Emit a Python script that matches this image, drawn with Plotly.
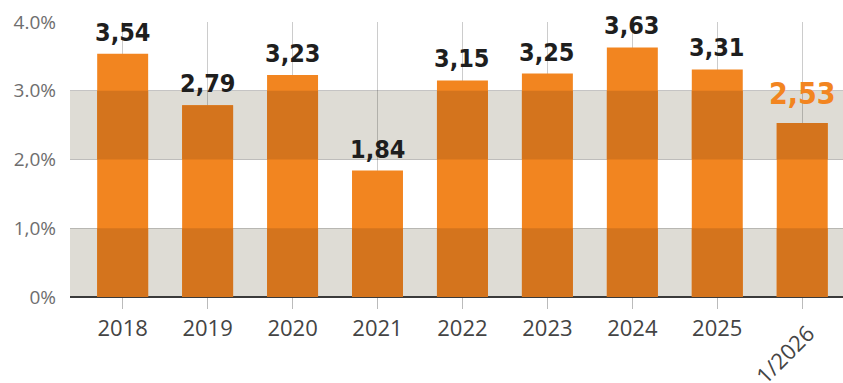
import plotly.graph_objects as go

categories = ["2018", "2019", "2020", "2021", "2022", "2023", "2024", "2025", "1/2026"]
values = [3.54, 2.79, 3.23, 1.84, 3.15, 3.25, 3.63, 3.31, 2.53]
value_labels = ["3,54", "2,79", "3,23", "1,84", "3,15", "3,25", "3,63", "3,31", "2,53"]
y_tick_vals = [0, 1, 2, 3, 4]
y_tick_text = ["0%", "1,0%", "2,0%", "3.0%", "4.0%"]
bands = [(0, 1), (2, 3)]

BRIGHT = "#f28520"
DARK = "#d4741d"
BAND = "#dedcd5"

x = list(range(len(categories)))

fig = go.Figure()
fig.add_trace(go.Bar(x=x, y=values, marker_color=BRIGHT, width=0.6,
                     marker_line_width=0, hoverinfo="skip"))
# darker segments where bars cross shaded bands
for lo, hi in bands:
    seg = [max(0.0, min(v, hi) - lo) for v in values]
    fig.add_trace(go.Bar(x=x, y=seg, base=[lo] * len(x), marker_color=DARK,
                         width=0.6, marker_line_width=0, hoverinfo="skip"))

for lo, hi in bands:
    fig.add_shape(type="rect", xref="paper", x0=0, x1=1, yref="y", y0=lo, y1=hi,
                  fillcolor=BAND, line_width=0, layer="below")

label_font = "DejaVu Sans Condensed, Liberation Sans Narrow, sans-serif"
for i, (v, t) in enumerate(zip(values, value_labels)):
    last = i == len(values) - 1
    fig.add_annotation(x=i, y=v, text=f"<b>{t}</b>", showarrow=False,
                       xanchor="center", yanchor="bottom",
                       yshift=10 if last else 5,
                       font=dict(family=label_font, size=30 if last else 25,
                                 color=BRIGHT if last else "#1e1e1e"))

fig.add_annotation(x=len(categories) - 1, xref="x", y=0, yref="paper",
                   text=categories[-1], showarrow=False, textangle=-45,
                   xanchor="center", yanchor="middle", xshift=-18, yshift=-57,
                   font=dict(family="Open Sans, sans-serif", size=22, color="#444444"))

fig.update_layout(
    width=843, height=383,
    margin=dict(l=70, r=0, t=22, b=86),
    paper_bgcolor="white", plot_bgcolor="white",
    barmode="overlay", bargap=0.4, showlegend=False,
    xaxis=dict(range=[-0.62, 8.48], tickvals=x,
               ticktext=categories[:-1] + [""],
               showgrid=True, gridcolor="rgba(0,0,0,0.2)", gridwidth=1,
               ticks="outside", ticklen=11, tickcolor="#bbbbbb", tickwidth=1,
               tickfont=dict(family="Open Sans, sans-serif", size=22, color="#444444"),
               layer="above traces", zeroline=False, showline=False,
               ticklabelstandoff=1, fixedrange=True),
    yaxis=dict(range=[0, 4], tickvals=y_tick_vals, ticktext=y_tick_text,
               showgrid=True, gridcolor="rgba(0,0,0,0.2)", gridwidth=1,
               zeroline=True, zerolinecolor="#3a3a3a", zerolinewidth=2,
               tickfont=dict(family="Open Sans, sans-serif", size=19, color="#6e6e6e"),
               ticks="", ticklabelstandoff=13, layer="above traces",
               showline=False, fixedrange=True),
)

fig.write_html("out.html", config={"displayModeBar": False})
